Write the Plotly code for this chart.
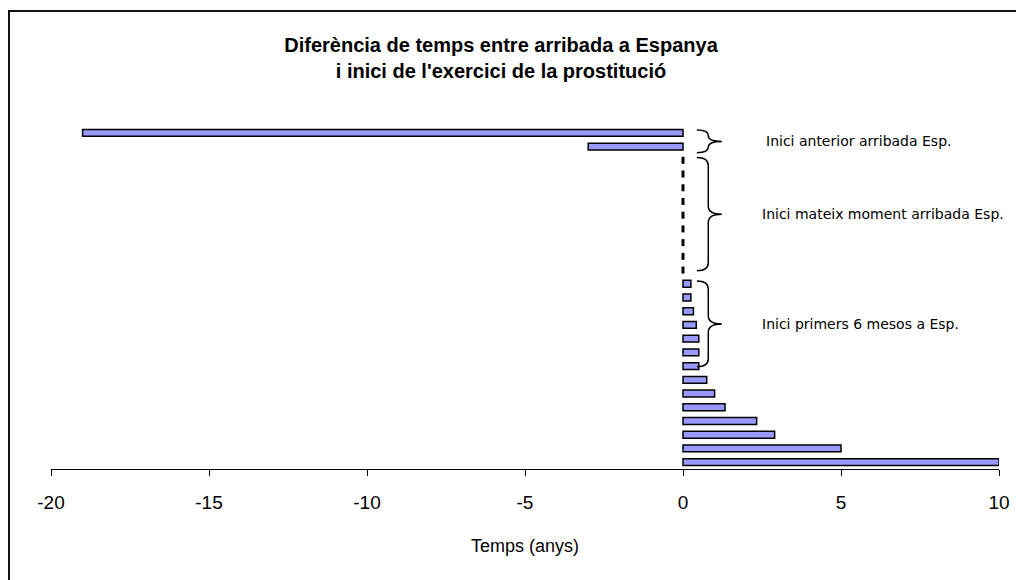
import plotly.graph_objects as go

# ---- data (top to bottom) ----
values = [-19, -3,
          0, 0, 0, 0, 0, 0, 0, 0, 0,
          0.25, 0.25, 0.33, 0.42, 0.5, 0.5, 0.5,
          0.75, 1.0, 1.33, 2.33, 2.9, 5.0, 10.0]
positions = list(range(len(values)))

groups = [  # (first index, last index, label)
    (0, 1, "Inici anterior arribada Esp."),
    (2, 10, "Inici mateix moment arribada Esp."),
    (11, 17, "Inici primers 6 mesos a Esp."),
]

title_text = "<b>Diferència de temps entre arribada a Espanya<br>i inici de l'exercici de la prostitució</b>"
x_title = "Temps (anys)"
x_ticks = [-20, -15, -10, -5, 0, 5, 10]
x_ticklabels = ["-20", "-15", "-10", "-5", "0", "5", "10"]

fig = go.Figure()

nz_y = [p for p, v in zip(positions, values) if v != 0]
nz_x = [v for v in values if v != 0]
fig.add_trace(go.Bar(
    x=nz_x, y=nz_y, orientation="h", width=0.5,
    marker=dict(color="#9999FF", line=dict(color="black", width=1.5)),
    showlegend=False, hoverinfo="x",
))

z_y = [p for p, v in zip(positions, values) if v == 0]
z_x = [v for v in values if v == 0]
fig.add_trace(go.Scatter(
    x=z_x, y=z_y, mode="markers",
    marker=dict(symbol="line-ns", size=5, line=dict(color="black", width=3)),
    showlegend=False, hoverinfo="x",
))

# braces + labels
shapes = []
annotations = []
bx0, bspine, btip = 0.44, 0.8, 1.23
for i, (a, b, label) in enumerate(groups):
    y0 = a - 0.2
    y1 = b + 0.05 if i else b + 0.45
    ym = (y0 + y1) / 2
    r = min(0.6, (y1 - y0) / 4)
    path = (f"M {bx0},{y0} Q {bspine},{y0} {bspine},{y0 + r} "
            f"L {bspine},{ym - r} Q {bspine},{ym} {btip},{ym} "
            f"Q {bspine},{ym} {bspine},{ym + r} "
            f"L {bspine},{y1 - r} Q {bspine},{y1} {bx0},{y1}")
    shapes.append(dict(type="path", path=path, xref="x", yref="y",
                       line=dict(color="black", width=1.5)))
    annotations.append(dict(
        x=2.55 if i == 0 else 2.45, y=ym, xref="x", yref="y",
        text=label, showarrow=False, xanchor="left", yanchor="middle",
        font=dict(family="DejaVu Sans", size=14, color="black"),
    ))

# page has an 8px body margin: positions below are window px minus 8
OFF = 8
W, H = 1024, 580
L = 51 - OFF
T = 126 - OFF
R = W - (999 - OFF)
B = H - (469 - OFF)
pw, ph = W - L - R, H - T - B
def px_x(px):
    return (px - OFF - L) / pw
def px_y(py):
    return (H - B - (py - OFF)) / ph
shapes.append(dict(type="rect", xref="paper", yref="paper",
                   x0=px_x(9), x1=px_x(1060), y0=px_y(620), y1=px_y(11),
                   line=dict(color="#111111", width=2), layer="below"))

fig.update_layout(
    width=W, height=H,
    margin=dict(l=L, r=R, t=T, b=B),
    paper_bgcolor="white", plot_bgcolor="white",
    font=dict(family="Liberation Sans, Arial", color="black"),
    title=dict(text=title_text, x=(501 - OFF) / W, xanchor="center",
               xref="container", yref="container", y=1 - (52 - OFF) / H,
               yanchor="middle", font=dict(size=20, family="Liberation Sans, Arial")),
    xaxis=dict(range=[-20, 10], tickvals=x_ticks, ticktext=x_ticklabels,
               ticks="outside", ticklen=6, ticklabelstandoff=10,
               tickcolor="black", showline=True, linecolor="black", linewidth=1,
               showgrid=False, zeroline=False, tickfont=dict(size=19),
               title=dict(text=x_title, font=dict(size=18), standoff=27),
               fixedrange=True),
    yaxis=dict(range=[24.5, -0.5], visible=False, showgrid=False,
               zeroline=False, fixedrange=True),
    shapes=shapes, annotations=annotations,
    bargap=0.5,
)

fig.write_html("out.html")
